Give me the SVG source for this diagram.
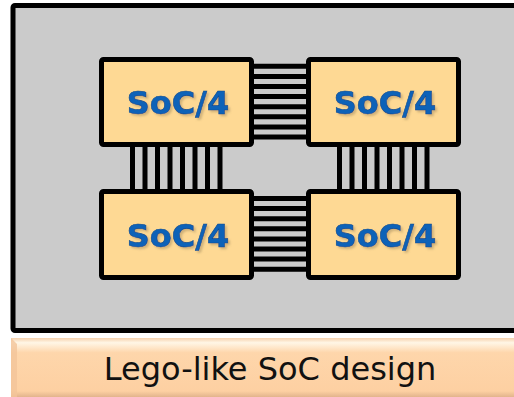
<svg xmlns="http://www.w3.org/2000/svg" width="514" height="397" viewBox="0 0 514 397">
  <defs>
    <linearGradient id="banner" x1="0" y1="0" x2="0" y2="1">
      <stop offset="0" stop-color="#f6d2ae"/>
      <stop offset="0.08" stop-color="#fff6e6"/>
      <stop offset="0.25" stop-color="#fed6ab"/>
      <stop offset="0.9" stop-color="#fdd0a2"/>
      <stop offset="1" stop-color="#e2b48c"/>
    </linearGradient>
    <filter id="shadow" x="-10%" y="-10%" width="130%" height="140%">
      <feGaussianBlur in="SourceAlpha" stdDeviation="1"/>
      <feOffset dx="1.5" dy="1.5" result="b"/>
      <feFlood flood-color="#8a7650" flood-opacity="0.4"/>
      <feComposite in2="b" operator="in"/>
      <feMerge><feMergeNode/><feMergeNode in="SourceGraphic"/></feMerge>
    </filter>
  </defs>
  <style>
    .frame { fill: #cbcbcb; stroke: #000; stroke-width: 5; }
    .soc { fill: #fed994; stroke: #000; stroke-width: 5; }
    .soc-label { font-family: "DejaVu Sans", Verdana, sans-serif; font-weight: bold; font-size: 32px; fill: #0d62b8; stroke: #0a4a8f; stroke-width: 0.6; text-anchor: middle; }
    .bus { stroke: #000; stroke-width: 5; fill: none; }
    .banner-text { font-family: "DejaVu Sans", Verdana, sans-serif; font-size: 32px; fill: #111; text-anchor: middle; }
  </style>

  <g id="frame">
    <rect class="frame" x="13" y="5.5" width="520" height="325" rx="2"/>
  </g>

  <g id="connectors">
    <path class="bus" d="M254 66.3H306M254 76.4H306M254 86.5H306M254 96.6H306M254 106.7H306M254 116.8H306M254 126.9H306M254 137H306"/>
    <path class="bus" d="M254 198.5H306M254 208.6H306M254 218.7H306M254 228.8H306M254 238.9H306M254 249H306M254 259.1H306M254 269.2H306"/>
    <path class="bus" d="M132.5 147V189M145 147V189M157.5 147V189M170 147V189M182.5 147V189M195 147V189M207.5 147V189M220 147V189"/>
    <path class="bus" d="M339.5 147V189M352 147V189M364.5 147V189M377 147V189M389.5 147V189M402 147V189M414.5 147V189M427 147V189"/>
  </g>

  <g id="soc-tl">
    <rect class="soc" x="101.5" y="59.5" width="150" height="85" rx="2"/>
    <text class="soc-label" x="178" y="113.5" filter="url(#shadow)">SoC/4</text>
  </g>
  <g id="soc-tr">
    <rect class="soc" x="308.5" y="59.5" width="150" height="85" rx="2"/>
    <text class="soc-label" x="385" y="113.5" filter="url(#shadow)">SoC/4</text>
  </g>
  <g id="soc-bl">
    <rect class="soc" x="101.5" y="191.5" width="150" height="86" rx="2"/>
    <text class="soc-label" x="178" y="246.5" filter="url(#shadow)">SoC/4</text>
  </g>
  <g id="soc-br">
    <rect class="soc" x="308.5" y="191.5" width="150" height="86" rx="2"/>
    <text class="soc-label" x="385" y="246.5" filter="url(#shadow)">SoC/4</text>
  </g>

  <g id="banner">
    <rect x="11" y="338" width="510" height="59" fill="url(#banner)"/>
    <polygon points="11,338 17,344 17,397 11,397" fill="#f2c49a" opacity="0.8"/>
    <text class="banner-text" x="270" y="380">Lego-like SoC design</text>
  </g>
</svg>
